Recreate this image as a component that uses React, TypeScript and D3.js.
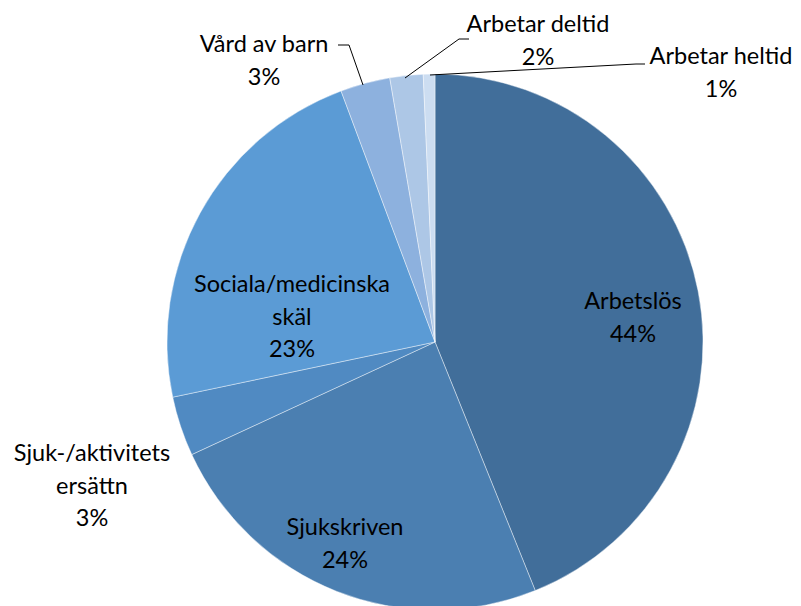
import React from "react";
import * as d3 from "d3";

const categories = ["Arbetslös", "Sjukskriven", "Sjuk-/aktivitets ersättn", "Sociala/medicinska skäl", "Vård av barn", "Arbetar deltid", "Arbetar heltid"];
const values = [43.9, 24.2, 3.6, 22.6, 3.0, 2.0, 0.7];
const percentLabels = ["44%", "24%", "3%", "23%", "3%", "2%", "1%"];
const colors = ["#416E9A", "#4B7FB1", "#508AC2", "#5B9BD5", "#8DB1DE", "#ADC7E6", "#CCDDF1"];

const labelLines = [
  ["Arbetslös", "44%"],
  ["Sjukskriven", "24%"],
  ["Sjuk-/aktivitets", "ersättn", "3%"],
  ["Sociala/medicinska", "skäl", "23%"],
  ["Vård av barn", "3%"],
  ["Arbetar deltid", "2%"],
  ["Arbetar heltid", "1%"],
];
const labelPos = [
  [633, 309],
  [345, 535],
  [92, 461],
  [292, 292],
  [264, 52],
  [538, 32],
  [721, 64],
];
const leaders = [
  null,
  null,
  null,
  null,
  [[338, 45], [349, 45], [363, 85]],
  [[469, 39], [459, 39], [405, 78]],
  [[645, 64], [636, 64], [430, 75]],
];

export default function App() {
  const W = 801, H = 606;
  const cx = 435, cy = 342, r = 268;
  const pie = d3.pie<number>().sort(null).value((d) => d)(values);
  const arc = d3.arc<d3.PieArcDatum<number>>().innerRadius(0).outerRadius(r);
  const line = d3.line();
  return (
    <svg width={W} height={H} style={{ position: "absolute", left: 0, top: 0 }}
      fontFamily="Lato, 'Open Sans', sans-serif">
      <rect width={W} height={H} fill="#fff" />
      <g transform={`translate(${cx},${cy})`}>
        {pie.map((p, i) => (
          <path key={i} d={arc(p) || ""} fill={colors[i]} stroke="#fff" strokeWidth={0.6} strokeOpacity={0.7} />
        ))}
      </g>
      {leaders.map((l, i) =>
        l ? <path key={i} d={line(l as [number, number][]) || ""} fill="none" stroke="#000" strokeWidth={1} /> : null
      )}
      {labelLines.map((lines, i) => (
        <text key={i} x={labelPos[i][0]} y={labelPos[i][1]} textAnchor="middle" fontSize={23.5} fill="#000">
          {lines.map((t, j) => (
            <tspan key={j} x={labelPos[i][0]} dy={j === 0 ? 0 : 32.5}>{t}</tspan>
          ))}
        </text>
      ))}
    </svg>
  );
}
